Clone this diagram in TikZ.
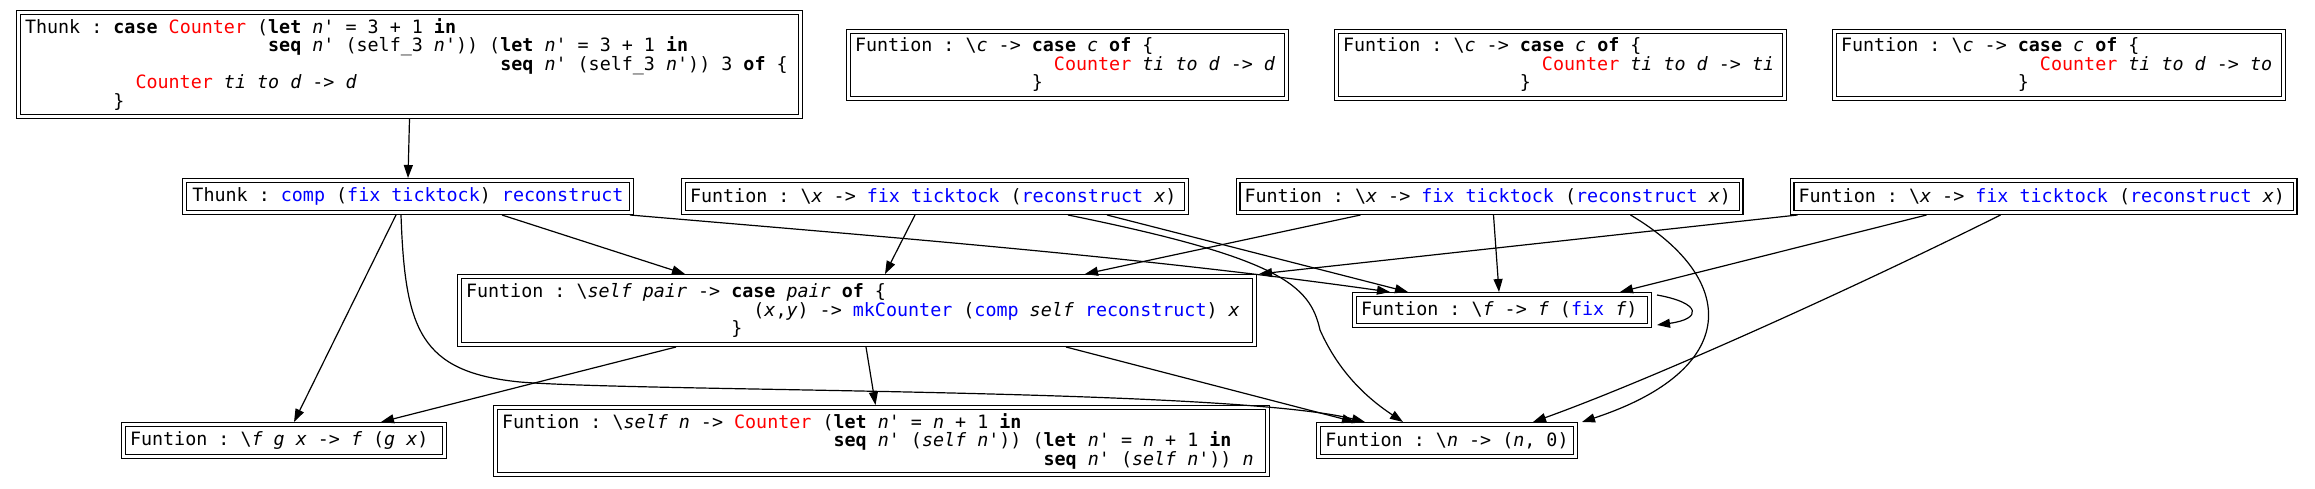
\documentclass[tikz,border=0pt]{standalone}
\usepackage{fontspec}
\setmonofont{DejaVu Sans Mono}[BoldFont={DejaVu Sans Mono Bold},ItalicFont={DejaVu Sans Mono Oblique},BoldItalicFont={DejaVu Sans Mono Bold Oblique}]
\usetikzlibrary{arrows.meta}
\definecolor{conred}{RGB}{255,0,0}
\definecolor{globl}{RGB}{0,0,255}
\newlength\hcwid
\newcommand\monof{\ttfamily\fontsize{18.36pt}{18.5pt}\selectfont\frenchspacing}
\newcommand\hfix{\settowidth\hcwid{x}\spaceskip=\hcwid\xspaceskip=\hcwid\relax}
\newcommand\hkw[1]{{\bfseries #1}}
\newcommand\hvr[1]{{\itshape #1}}
\newcommand\hcn[1]{\textcolor{conred}{#1}}
\newcommand\hgl[1]{\textcolor{globl}{#1}}
\newcommand\hind[1]{\settowidth\hcwid{x}\hspace*{#1\hcwid}}
\newcommand\hbs{\textbackslash}
\tikzset{
  gnode/.style={draw, double, line width=1.2pt, double distance=2.6pt,
    inner ysep=0pt, inner xsep=6.5pt, outer sep=2.5pt, align=left, font=\monof},
  cnode/.style={gnode, inner xsep=0pt},
  conn/.style={line width=1.2pt, -{Triangle[length=13pt,width=9pt]}},
}
\begin{document}
\begin{tikzpicture}[x=1pt,y=-1pt]
\fill[white] (0,0) rectangle (2315,488);
\useasboundingbox (0,0) rectangle (2315,488);

% rank 0
\node[gnode, text width=769pt, minimum height=104pt] (A) at (409.5,64.5)
{\hfix Thunk : \hkw{case} \hcn{Counter} (\hkw{let} \hvr{n}' = 3 + 1 \hkw{in}\\
\hind{22}\hkw{seq} \hvr{n}' (self\_3 \hvr{n}')) (\hkw{let} \hvr{n}' = 3 + 1 \hkw{in}\\
\hind{43}\hkw{seq} \hvr{n}' (self\_3 \hvr{n}')) 3 \hkw{of} \{\\
\hind{10}\hcn{Counter} \hvr{ti to d} -> \hvr{d}\\
\hind{8}\}};
\node[gnode, text width=425pt, minimum height=67pt] (C1) at (1067.5,65)
{\hfix Funtion : \hbs\hvr{c} -> \hkw{case} \hvr{c} \hkw{of} \{\\
\hind{18}\hcn{Counter} \hvr{ti to d} -> \hvr{d}\\
\hind{16}\}};
\node[gnode, text width=435pt, minimum height=67pt] (C2) at (1560.5,65)
{\hfix Funtion : \hbs\hvr{c} -> \hkw{case} \hvr{c} \hkw{of} \{\\
\hind{18}\hcn{Counter} \hvr{ti to d} -> \hvr{ti}\\
\hind{16}\}};
\node[gnode, text width=436pt, minimum height=67pt] (C3) at (2059,65)
{\hfix Funtion : \hbs\hvr{c} -> \hkw{case} \hvr{c} \hkw{of} \{\\
\hind{18}\hcn{Counter} \hvr{ti to d} -> \hvr{to}\\
\hind{16}\}};

% rank 1
\node[cnode, minimum width=447pt, minimum height=32pt] (B) at (408,196.5)
{Thunk : \hgl{comp} (\hgl{fix ticktock}) \hgl{reconstruct}};
\node[gnode, text width=490pt, minimum height=32pt] (X1) at (935,196.5)
{\hfix Funtion : \hbs\hvr{x} -> \hgl{fix ticktock} (\hgl{reconstruct} \hvr{x})};
\node[gnode, text width=490pt, minimum height=32pt] (X2) at (1489.5,196.5)
{\hfix Funtion : \hbs\hvr{x} -> \hgl{fix ticktock} (\hgl{reconstruct} \hvr{x})};
\node[gnode, text width=490pt, minimum height=32pt] (X3) at (2043.5,196.5)
{\hfix Funtion : \hbs\hvr{x} -> \hgl{fix ticktock} (\hgl{reconstruct} \hvr{x})};

% rank 2
\node[gnode, text width=782pt, minimum height=68pt] (P) at (857,310.5)
{\hfix Funtion : \hbs\hvr{self pair} -> \hkw{case} \hvr{pair} \hkw{of} \{\\
\hind{26}(\hvr{x},\hvr{y}) -> \hgl{mkCounter} (\hgl{comp} \hvr{self} \hgl{reconstruct}) \hvr{x}\\
\hind{24}\}};
\node[gnode, text width=282pt, minimum height=31pt] (F) at (1502,310)
{\hfix Funtion : \hbs\hvr{f} -> \hvr{f} (\hgl{fix} \hvr{f})};

% rank 3
\node[gnode, text width=308pt, minimum height=32pt] (G) at (284,440.5)
{\hfix Funtion : \hbs\hvr{f g x} -> \hvr{f} (\hvr{g x})};
\node[gnode, text width=759pt, minimum height=67pt] (S) at (881.5,441)
{\hfix Funtion : \hbs\hvr{self n} -> \hcn{Counter} (\hkw{let} \hvr{n}' = \hvr{n} + 1 \hkw{in}\\
\hind{30}\hkw{seq} \hvr{n}' (\hvr{self n}')) (\hkw{let} \hvr{n}' = \hvr{n} + 1 \hkw{in}\\
\hind{49}\hkw{seq} \hvr{n}' (\hvr{self n}')) \hvr{n}};
\node[cnode, minimum width=257pt, minimum height=32pt] (N) at (1447,440.5)
{Funtion : \hbs\hvr{n} -> (\hvr{n}, 0)};

% edges
\draw[conn] (A.south) -- (B.north);
\draw[conn] ([xshift=94pt]B.south) -- ([xshift=-172pt]P.north);
\draw[conn] ([xshift=-4pt]B.south east) .. controls (900,238) and (1150,258) .. ([xshift=-112pt]F.north);
\draw[conn] ([xshift=-12pt]B.south) -- ([xshift=10pt]G.north);
\draw[conn] ([xshift=-7pt]B.south) .. controls (405,330) and (420,372) .. (520,382)
  .. controls (640,392) and (1230,388) .. ([xshift=-82pt]N.north);
\draw[conn] ([xshift=-181pt]P.south) -- ([xshift=97pt]G.north);
\draw[conn] ([xshift=9pt]P.south) -- ([xshift=-6pt]S.north);
\draw[conn] ([xshift=209pt]P.south) -- ([xshift=-92pt]N.north);
\draw[conn] ([xshift=-20pt]X1.south) -- ([xshift=28pt]P.north);
\draw[conn] ([xshift=172pt]X1.south) -- ([xshift=-94pt]F.north);
\draw[conn] ([xshift=133pt]X1.south) .. controls (1280,258) and (1310,285) .. (1320,330)
  .. controls (1340,375) and (1370,400) .. ([xshift=-44pt]N.north);
\draw[conn] ([xshift=-129pt]X2.south) -- ([xshift=228pt]P.north);
\draw[conn] ([xshift=4pt]X2.south) -- ([xshift=-3pt]F.north);
\draw[conn] ([xshift=141pt]X2.south) .. controls (1740,280) and (1740,370) .. ([xshift=4pt]N.north east);
\draw[conn] ([xshift=8pt]X3.south west) -- ([xshift=2pt]P.north east);
\draw[conn] ([xshift=-117pt]X3.south) -- ([xshift=118pt]F.north);
\draw[conn] ([xshift=-43pt]X3.south) .. controls (1850,290) and (1650,380) .. ([xshift=86pt]N.north);
\draw[conn] ([xshift=5pt,yshift=-3pt]F.north east) .. controls +(45,8) and +(45,-6) .. ([xshift=5pt,yshift=3pt]F.south east);
\end{tikzpicture}
\end{document}
